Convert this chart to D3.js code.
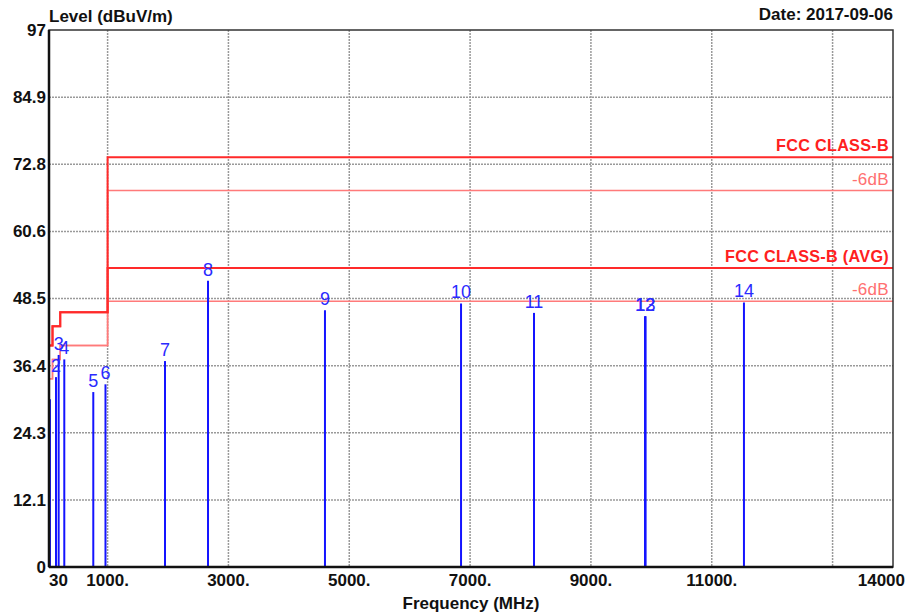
<!DOCTYPE html>
<html>
<head>
<meta charset="utf-8">
<script src="https://cdn.jsdelivr.net/npm/d3@7/dist/d3.min.js"></script>
<style>
  body { margin: 0; background: #fff; }
  text { font-family: "Liberation Sans", Arial, sans-serif; }
</style>
</head>
<body>
<div id="chart"></div>
<script>
// data
var markerFreq  = [46, 146, 190, 283, 763, 965, 1950, 2662, 4598, 6850, 8058, 9895, 9905, 11533];
var markerLevel = [30.3, 34.3, 38.3, 37.5, 31.6, 33.0, 37.2, 51.7, 46.4, 47.6, 45.9, 45.3, 45.3, 47.8];
var markerLabel = ["", "2", "3", "4", "5", "6", "7", "8", "9", "10", "11", "12", "13", "14"];

// limit lines (freq MHz, level dBuV/m)
var limitFreq   = [30, 88, 88, 216, 216, 1000, 1000, 14000];
var classB      = [40, 40, 43.5, 43.5, 46, 46, 74, 74];
var classBAvg   = [40, 40, 43.5, 43.5, 46, 46, 54, 54];
var classB6     = [34, 34, 37.5, 37.5, 40, 40, 68, 68];
var classBAvg6  = [34, 34, 37.5, 37.5, 40, 40, 48, 48];

var yTicks      = [0, 12.125, 24.25, 36.375, 48.5, 60.625, 72.75, 84.875, 97];
var yTickLabels = ["0", "12.1", "24.3", "36.4", "48.5", "60.6", "72.8", "84.9", "97"];
var xTicks      = [30, 1000, 3000, 5000, 7000, 9000, 11000, 14000];
var xTickLabels = ["30", "1000.", "3000.", "5000.", "7000.", "9000.", "11000.", "14000"];
var xGrid       = [1000, 3000, 5000, 7000, 9000, 11000, 13000];

var margin = { top: 30, right: 21, bottom: 47, left: 49 },
  width = 914 - margin.left - margin.right,
  height = 614 - margin.top - margin.bottom;

var svg = d3.select("#chart")
  .append("svg")
  .attr("width", 914)
  .attr("height", 614)
  .append("g")
  .attr("transform", "translate(" + margin.left + "," + margin.top + ")");

var x = d3.scaleLinear().domain([30, 14000]).range([0, width]);
var y = d3.scaleLinear().domain([0, 97]).range([height, 0]);

// grid
svg.selectAll(".hgrid")
  .data(yTicks.slice(1, -1))
  .enter().append("line")
  .attr("x1", 0).attr("x2", width)
  .attr("y1", function (d) { return y(d); })
  .attr("y2", function (d) { return y(d); })
  .attr("stroke", "#9a9a9a")
  .attr("stroke-width", 1.5)
  .attr("stroke-dasharray", "2,1");

svg.selectAll(".vgrid")
  .data(xGrid)
  .enter().append("line")
  .attr("x1", function (d) { return x(d); })
  .attr("x2", function (d) { return x(d); })
  .attr("y1", 0).attr("y2", height)
  .attr("stroke", "#9a9a9a")
  .attr("stroke-width", 1.5)
  .attr("stroke-dasharray", "2,1");

// limit lines
function limitPath(levels) {
  return d3.line()
    .x(function (d, i) { return x(limitFreq[i]); })
    .y(function (d) { return y(d); })(levels);
}
var limits = [
  { v: classB6, c: "#ff7a7a", w: 1.5 },
  { v: classBAvg6, c: "#ff7a7a", w: 1.5 },
  { v: classBAvg, c: "#ff2a2a", w: 2 },
  { v: classB, c: "#ff2a2a", w: 2 }
];
svg.selectAll(".limit")
  .data(limits)
  .enter().append("path")
  .attr("d", function (d) { return limitPath(d.v); })
  .attr("fill", "none")
  .attr("stroke", function (d) { return d.c; })
  .attr("stroke-width", function (d) { return d.w; });

// limit labels
var limitLabels = [
  { t: "FCC CLASS-B", v: classB[7], c: "#ff2020", b: "bold", s: 16.2 },
  { t: "-6dB", v: classB6[7], c: "#ff7070", b: "normal", s: 17 },
  { t: "FCC CLASS-B (AVG)", v: classBAvg[7], c: "#ff2020", b: "bold", s: 16.2 },
  { t: "-6dB", v: classBAvg6[7], c: "#ff7070", b: "normal", s: 17 }
];
svg.selectAll(".limitLabel")
  .data(limitLabels)
  .enter().append("text")
  .attr("x", width - 4)
  .attr("y", function (d) { return y(d.v) - 6; })
  .attr("text-anchor", "end")
  .style("font-size", function (d) { return d.s + "px"; })
  .style("font-weight", function (d) { return d.b; })
  .style("letter-spacing", "0.3px")
  .attr("fill", function (d) { return d.c; })
  .text(function (d) { return d.t; });

// markers
svg.selectAll(".marker")
  .data(markerFreq)
  .enter().append("line")
  .attr("x1", function (d) { return x(d); })
  .attr("x2", function (d) { return x(d); })
  .attr("y1", height)
  .attr("y2", function (d, i) { return y(markerLevel[i]); })
  .attr("stroke", "#1414ff")
  .attr("stroke-width", 2);

svg.selectAll(".markerLabel")
  .data(markerFreq)
  .enter().append("text")
  .attr("x", function (d) { return x(d); })
  .attr("y", function (d, i) { return y(markerLevel[i]) - 5; })
  .attr("text-anchor", "middle")
  .style("font-size", "18px")
  .attr("fill", "#2a2aff")
  .text(function (d, i) { return markerLabel[i]; });

// frame
svg.append("rect")
  .attr("width", width).attr("height", height)
  .attr("fill", "none")
  .attr("stroke", "#333")
  .attr("stroke-width", 1.5);
svg.append("line")
  .attr("x1", 0).attr("x2", 0).attr("y1", 0).attr("y2", height)
  .attr("stroke", "#111").attr("stroke-width", 2.5);
svg.append("line")
  .attr("x1", 0).attr("x2", width).attr("y1", height).attr("y2", height)
  .attr("stroke", "#111").attr("stroke-width", 2.5);

// axis labels
svg.selectAll(".ylab")
  .data(yTicks)
  .enter().append("text")
  .attr("x", -3)
  .attr("y", function (d) { return y(d); })
  .attr("dy", "0.35em")
  .attr("text-anchor", "end")
  .style("font-size", "17px")
  .style("font-weight", "bold")
  .attr("fill", "#111")
  .text(function (d, i) { return yTickLabels[i]; });

svg.selectAll(".xlab")
  .data(xTicks)
  .enter().append("text")
  .attr("x", function (d) { return x(d); })
  .attr("y", height + 19)
  .attr("text-anchor", function (d, i) {
    return i === 0 ? "start" : (i === xTicks.length - 1 ? "end" : "middle");
  })
  .attr("dx", function (d, i) { return i === xTicks.length - 1 ? 12 : 0; })
  .style("font-size", "17px")
  .style("font-weight", "bold")
  .attr("fill", "#111")
  .text(function (d, i) { return xTickLabels[i]; });

svg.append("text")
  .attr("x", width / 2)
  .attr("y", height + 42)
  .attr("text-anchor", "middle")
  .style("font-size", "17px")
  .style("font-weight", "bold")
  .attr("fill", "#111")
  .text("Frequency (MHz)");

svg.append("text")
  .attr("x", 0)
  .attr("y", -8)
  .style("font-size", "17px")
  .style("font-weight", "bold")
  .attr("fill", "#111")
  .text("Level (dBuV/m)");

svg.append("text")
  .attr("x", width)
  .attr("y", -10)
  .attr("text-anchor", "end")
  .style("font-size", "17px")
  .style("font-weight", "bold")
  .attr("fill", "#111")
  .text("Date: 2017-09-06");
</script>
</body>
</html>
